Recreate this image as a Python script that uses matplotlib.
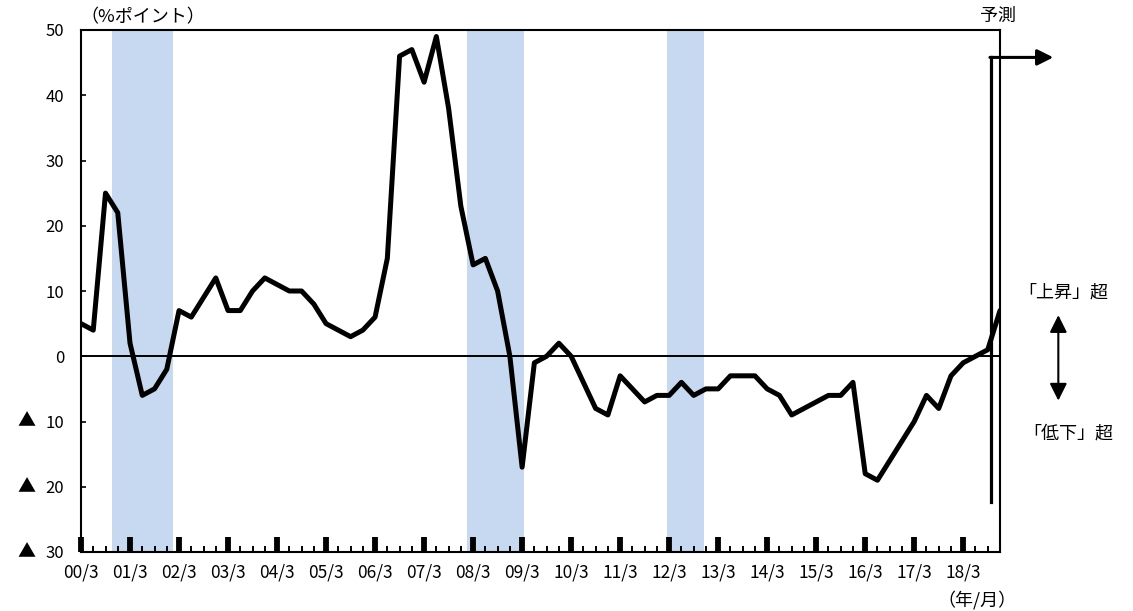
import matplotlib
matplotlib.use("Agg")
import matplotlib.pyplot as plt
import matplotlib.transforms as mtransforms

plt.rcParams['font.family'] = ['Noto Sans CJK JP', 'DejaVu Sans']

# -------------------------
# Data (quarterly, 2000/3 .. 2018/12, last point is the forecast)
# -------------------------
di_change = [5, 4, 25, 22, 2, -6, -5, -2, 7, 6, 9, 12,
             7, 7, 10, 12, 11, 10, 10, 8, 5, 4, 3, 4,
             6, 15, 46, 47, 42, 49, 38, 23, 14, 15, 10, 0,
             -17, -1, 0, 2, 0, -4, -8, -9, -3, -5, -7, -6,
             -6, -4, -6, -5, -5, -3, -3, -3, -5, -6, -9, -8,
             -7, -6, -6, -4, -18, -19, -16, -13, -10, -6, -8, -3,
             -1, 0, 1, 7]

tick_labels = ["00/3", "01/3", "02/3", "03/3", "04/3", "05/3", "06/3",
               "07/3", "08/3", "09/3", "10/3", "11/3", "12/3", "13/3",
               "14/3", "15/3", "16/3", "17/3", "18/3"]

y_ticks = [50, 40, 30, 20, 10, 0, -10, -20, -30]
y_labels = ["50", "40", "30", "20", "10", "0", "10", "20", "30"]

# recession periods (first month, last month)
recessions = [((2000, 11), (2002, 1)),
              ((2008, 2), (2009, 3)),
              ((2012, 3), (2012, 11))]

START = (2000, 3)


def month_pos(ym):
    """month -> position on the quarterly axis"""
    return ((ym[0] - START[0]) * 12 + ym[1] - START[1]) / 3.0


# -------------------------
# Figure
# -------------------------
fig = plt.figure(figsize=(11.33, 6.11), dpi=100)
ax = fig.add_axes([81 / 1133, 1 - 552 / 611, 919 / 1133, 522 / 611])

x = list(range(len(di_change)))

for s, e in recessions:
    ax.axvspan(month_pos(s) - 1 / 6, month_pos(e) + 1 / 6,
               color="#c6d9f0", lw=0, zorder=0)

ax.axhline(0, color="black", lw=1.4, zorder=1)
ax.plot(x, di_change, color="black", lw=3.6, solid_joinstyle="round",
        solid_capstyle="round", zorder=3)

ax.set_xlim(0, len(di_change) - 1)
ax.set_ylim(-30, 50)

for sp in ax.spines.values():
    sp.set_linewidth(1.5)
    sp.set_color("black")

major = list(range(0, len(di_change), 4))
minor = [i for i in range(len(di_change)) if i % 4 != 0]
ax.set_xticks(major)
ax.set_xticklabels(tick_labels)
ax.set_xticks(minor, minor=True)
ax.tick_params(axis="x", which="major", direction="in", length=10.5, width=4.2,
               pad=8, labelsize=12.5)
ax.tick_params(axis="x", which="minor", direction="in", length=4.3, width=1.4)

ax.set_yticks(y_ticks)
ax.set_yticklabels(y_labels)
ax.tick_params(axis="y", direction="in", length=3.8, width=1.2, pad=12,
               labelsize=12)

# triangle marks for negative values
tr = mtransforms.blended_transform_factory(fig.transFigure, ax.transData)
for v in y_ticks:
    if v < 0:
        ax.text(26 / 1133, v, "▲", transform=tr, ha="center", va="center",
                fontsize=13)

fig.text(80 / 1133, 1 - 17 / 611, "（%ポイント）", ha="left", va="center",
         fontsize=13)
fig.text(977 / 1133, 1 - 600 / 611, "（年/月）", ha="center", va="center",
         fontsize=13)

# forecast marker
fx = 74.26
ax.plot([fx, fx], [-22.3, 45.8], color="black", lw=2.3, clip_on=False,
        zorder=4)
ax.annotate("", xy=(79.35, 45.8), xytext=(fx - 0.08, 45.8),
            arrowprops=dict(arrowstyle="-|>", lw=2.2, color="black",
                            mutation_scale=24, shrinkA=0, shrinkB=0),
            annotation_clip=False)
ax.text(74.8, 52.2, "予測", ha="center", va="center", fontsize=13)

# up / down guide on the right
ax.annotate("", xy=(79.76, 6.3), xytext=(79.76, -6.8),
            arrowprops=dict(arrowstyle="<|-|>", lw=1.5, color="black",
                            mutation_scale=26, shrinkA=0, shrinkB=0),
            annotation_clip=False)
ax.text(80.2, 9.8, "「上昇」超", ha="center", va="center", fontsize=13)
ax.text(80.6, -11.8, "「低下」超", ha="center", va="center", fontsize=13)

fig.savefig("out.png", dpi=100)
